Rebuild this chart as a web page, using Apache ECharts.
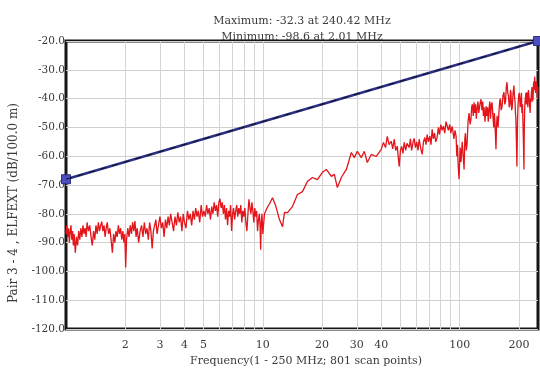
<!DOCTYPE html>
<html>
<head>
<meta charset="utf-8">
<script src="https://cdn.jsdelivr.net/npm/echarts@6/dist/echarts.min.js"></script>
<style>
html,body{margin:0;padding:0;background:#fff;}
#chart{width:540px;height:376px;}
</style>
</head>
<body>
<div id="chart"></div>
<script>
const freqMHz = [
  // 1 - 2 MHz
  1.00,1.01,1.02,1.03,1.04,1.05,1.06,1.07,1.08,1.09,
  1.10,1.115,1.13,1.145,1.16,1.175,1.19,1.205,1.22,1.235,
  1.25,1.265,1.28,1.30,1.32,1.34,1.36,1.38,1.40,1.42,
  1.44,1.46,1.48,1.50,1.52,1.54,1.56,1.58,1.60,1.62,
  1.645,1.67,1.695,1.72,1.745,1.77,1.795,1.82,1.845,1.87,
  1.895,1.92,1.945,1.97,1.99,2.01,
  // 2 - 5 MHz
  2.03,2.06,2.09,2.12,2.15,2.18,2.21,2.24,2.27,2.30,
  2.34,2.38,2.42,2.46,2.50,2.54,2.58,2.62,2.66,2.70,
  2.74,2.78,2.82,2.86,2.90,2.95,3.00,3.05,3.10,3.15,
  3.20,3.25,3.30,3.35,3.40,3.46,3.52,3.58,3.64,3.70,
  3.76,3.82,3.88,3.94,4.00,4.07,4.14,4.21,4.28,4.35,
  4.42,4.49,4.56,4.63,4.70,4.78,4.86,4.94,5.02,
  // 5 - 10 MHz
  5.10,5.18,5.26,5.34,5.42,5.50,5.58,5.66,5.74,5.82,
  5.90,5.98,6.06,6.14,6.22,6.30,6.38,6.46,6.54,6.62,
  6.70,6.78,6.86,6.94,7.02,7.10,7.19,7.28,7.37,7.46,
  7.55,7.64,7.73,7.82,7.91,8.00,8.10,8.20,8.30,8.40,
  8.50,8.60,8.70,8.80,8.90,9.00,9.10,9.20,9.30,9.40,
  9.50,9.60,9.68,9.75,9.82,9.90,10.0,
  // 10 - 40 MHz
  10.2,10.5,10.81,11.2,11.6,12.15,12.59,12.88,13.34,14.14,
  14.99,15.9,16.85,17.86,18.93,20.08,21.03,22.29,23.09,23.91,
  25.05,26.57,28.16,29.16,30.2,31.64,32.78,33.94,35.55,37.7,
  39.96,
  // 40 - 112 MHz
  41.0,42.0,42.86,43.8,44.9,45.7,46.51,47.3,48.16,49.3,
  50.0,50.7,51.5,52.27,53.2,54.0,55.4,56.2,57.0,58.0,
  58.74,59.6,60.5,61.4,62.27,63.3,64.48,65.5,66.5,67.4,
  68.36,69.4,70.5,71.5,72.47,73.5,74.5,75.6,76.82,78.0,
  79.0,80.2,81.44,82.7,84.0,85.2,86.33,87.6,89.0,90.2,
  91.52,92.5,93.5,94.7,95.9,96.7,97.5,98.4,99.3,100.5,
  101.6,103.0,104.2,105.3,106.2,107.0,108.0,109.0,110.3,111.6,
  // 112 - 250 MHz
  113.0,114.2,115.0,116.0,117.2,118.3,119.4,120.5,121.5,122.5,
  123.8,125.0,126.7,128.4,129.7,131.0,132.0,133.0,134.5,136.1,
  137.3,138.5,139.7,140.9,142.2,143.5,144.8,146.0,147.5,149.0,
  150.0,151.0,152.0,152.9,154.0,155.0,156.7,158.4,159.7,161.0,
  162.5,164.0,166.0,167.9,169.5,171.0,172.5,173.9,175.5,177.0,
  178.5,180.0,181.1,182.2,183.6,185.0,186.8,188.7,189.8,191.0,
  192.0,193.0,194.2,195.4,196.7,198.0,199.5,201.0,203.0,204.8,
  206.0,207.0,208.5,210.0,211.0,212.1,213.0,214.0,215.5,217.0,
  218.3,219.6,221.0,222.0,223.5,225.0,226.5,228.0,229.0,230.1,
  231.5,233.0,234.5,236.0,237.2,238.4,239.5,240.4,241.7,243.0,
  244.8,246.8,247.7,248.5,249.3,250.0
];
const elfextDb = [
  // 1 - 2 MHz
  -87,-84,-88,-85,-90,-86,-84,-89,-86,-91,
  -87,-93.5,-88,-91,-86,-89,-85,-88,-84,-87,
  -85,-88,-83,-86,-84,-88,-91,-86,-89,-84,
  -87,-83,-86,-84,-82.7,-86,-84,-88,-85,-83,
  -87,-85,-89,-93.5,-87,-90,-86,-88,-84,-87,
  -85,-89,-86,-90,-87,-98.6,
  // 2 - 5 MHz
  -89,-85,-88,-84,-87,-83,-86,-82.5,-88,-85,
  -90,-86,-84,-88,-83,-87,-85,-89,-83,-86,
  -92,-86,-84,-82,-87,-84,-81,-85,-83,-88,
  -82,-85,-81,-84,-80,-83,-86,-81,-84,-79.5,
  -83,-81,-86,-80,-83,-85,-79,-82,-80,-84,
  -79,-82,-78,-81,-79,-83,-77,-81,-79,
  // 5 - 10 MHz
  -81,-77,-80,-78,-82,-77.5,-80,-76,-79,-77,
  -81,-76,-74.8,-78,-76,-80,-77,-82,-78,-84,
  -79,-81,-77,-86,-80,-78,-82,-79,-77,-81,
  -78,-80,-77,-83,-79,-81,-78,-83,-86,-80,
  -75,-78,-80,-76,-79,-83,-78,-81,-79,-86,
  -82,-80,-84,-92.5,-83,-80,-87,
  // 10 - 40 MHz
  -80,-78,-76.5,-74.4,-77,-82,-84.5,-79.5,-79.6,-77.5,
  -73.3,-72.3,-68.8,-67.4,-68.1,-65.6,-64.6,-67,-66.3,-70.9,
  -67.4,-64.6,-58.7,-60.5,-58.3,-60.5,-58.3,-62.2,-59.4,-60.1,
  -57.6,
  // 40 - 112 MHz
  -55.2,-57,-53.1,-56,-54.8,-57.5,-54.1,-58,-56.5,-63.6,
  -58,-56.6,-59,-55.2,-58,-55.5,-57,-54,-58,-55,
  -53.8,-57,-55,-58,-54.1,-57,-59.4,-55,-53.5,-56,
  -52.5,-55,-53,-56,-50.7,-54,-52,-55,-53.4,-50,
  -52.5,-49,-51,-49.6,-52,-48,-47.9,-51,-49,-52,
  -49.6,-51.5,-54,-51,-53.1,-60,-56,-64,-68,-57,
  -62,-55,-60,-64.6,-54,-52,-58,-56,-48,-45,
  // 112 - 250 MHz
  -49,-47,-43,-42,-46,-41.3,-45,-42,-47,-43.8,
  -41,-45,-42,-40.2,-44,-41,-46,-43,-48,-42.7,
  -46,-43,-48,-43.8,-41,-47,-42,-41.3,-46,-50,
  -45,-48,-53,-57.6,-49,-46,-50,-44.5,-41,-40,
  -44,-43,-39,-37.8,-42,-41,-36,-34.3,-38,-39,
  -43,-42,-37,-38,-44,-43,-38,-35.5,-39,-41,
  -45,-47,-55,-63.6,-48,-42,-39,-38,-43,-40.2,
  -38,-45,-42,-50,-56,-64.6,-50,-43,-40,-38,
  -42,-37.8,-40,-43,-37,-39,-42,-45,-40,-41.3,
  -38,-36,-41,-40,-35,-34,-37,-32.3,-36,-38,
  -34,-35,-39,-40,-37,-36
];
// Limit line end points
const limitFreq = [1, 250];
const limitDb = [-68.0, -20.0];
// Axis ticks
const xLabelValues = [2, 3, 4, 5, 10, 20, 30, 40, 100, 200];
const xGridValues = [2, 3, 4, 5, 6, 7, 8, 9, 10, 20, 30, 40, 50, 60, 70, 80, 90, 100, 200];
const xMinMHz = 1, xMaxMHz = 250;
const yMin = -120, yMax = -20, yStep = 10;
const titleLines = ['Maximum: -32.3 at 240.42 MHz', 'Minimum: -98.6 at 2.01 MHz'];
const xName = 'Frequency(1 - 250 MHz; 801 scan points)';
const yName = 'Pair 3 - 4 , ELFEXT (dB/100.0 m)';

const lg = v => Math.log10(v);
const redData = freqMHz.map((f, i) => [lg(f), elfextDb[i]]);
const limitData = limitFreq.map((f, i) => [lg(f), limitDb[i]]);
const FONT = '"DejaVu Serif", "Liberation Serif", serif';
const TXT = '#3a3a3a';

const chart = echarts.init(document.getElementById('chart'), null, {renderer: 'canvas'});
chart.setOption({
  animation: false,
  backgroundColor: '#ffffff',
  title: {
    text: titleLines.join('\n'),
    left: 297, top: 8, textAlign: 'center',
    textStyle: {fontFamily: FONT, fontSize: 11, fontWeight: 'normal', color: TXT, lineHeight: 16}
  },
  grid: {left: 66, right: 2, top: 41, bottom: 47, show: true, borderColor: '#151515', borderWidth: 3, backgroundColor: 'transparent'},
  xAxis: {
    type: 'value', min: lg(xMinMHz), max: lg(xMaxMHz),
    name: xName, nameLocation: 'middle', nameGap: 25,
    nameTextStyle: {fontFamily: FONT, fontSize: 11, color: TXT, padding: [0, 0, 0, 8]},
    axisLine: {show: false},
    axisTick: {show: false, customValues: xGridValues.map(lg)},
    axisLabel: {
      customValues: xLabelValues.map(lg),
      formatter: v => String(Math.round(Math.pow(10, v))),
      fontFamily: FONT, fontSize: 11, color: TXT, margin: 11
    },
    splitLine: {show: true, lineStyle: {color: '#d4d4d4', width: 1}}
  },
  yAxis: {
    type: 'value', min: yMin, max: yMax, interval: yStep,
    name: yName, nameLocation: 'middle', nameGap: 46, nameRotate: 90,
    nameTextStyle: {fontFamily: FONT, fontSize: 12, color: TXT, padding: [0, 36, 0, 0]},
    axisLine: {show: false}, axisTick: {show: false},
    axisLabel: {formatter: v => v.toFixed(1), fontFamily: FONT, fontSize: 10.5, color: TXT, margin: 1},
    splitLine: {show: true, lineStyle: {color: '#cfcfcf', width: 1}}
  },
  series: [
    {
      type: 'line', data: redData, showSymbol: false, symbol: 'none',
      lineStyle: {color: '#e3151b', width: 1.3}, z: 3
    },
    {
      type: 'line', data: limitData, symbol: 'rect', symbolSize: 9, showSymbol: true, clip: false,
      lineStyle: {color: '#2b2f86', width: 2.4},
      itemStyle: {color: '#4b4fc2', borderColor: '#2b2f86', borderWidth: 1}, z: 4
    },
    {
      type: 'line', data: limitData, symbol: 'none', clip: false,
      lineStyle: {color: '#111', width: 1, type: [6, 6]}, z: 5
    }
  ]
});
</script>
</body>
</html>
